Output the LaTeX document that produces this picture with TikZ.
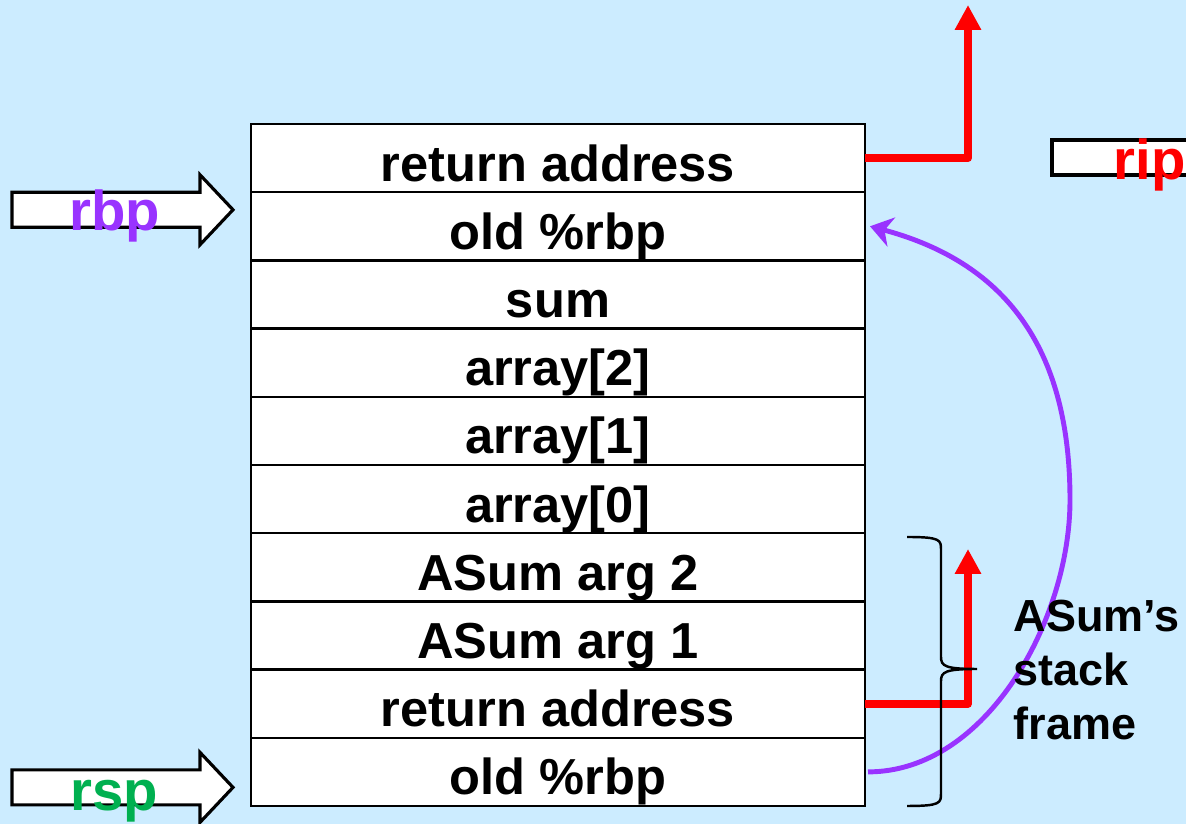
\documentclass[tikz,border=0pt]{standalone}
\usepackage{fontspec}
\setmainfont{Liberation Sans}
\usetikzlibrary{positioning,arrows.meta,calc}
\definecolor{slidebg}{RGB}{204,236,255}
\definecolor{rbpcol}{RGB}{153,51,255}
\definecolor{rspcol}{RGB}{0,176,80}
\tikzset{
	slot/.style={draw, fill=white, line width=0.7pt, outer sep=0pt, inner sep=0pt,
		minimum width=6.14cm, minimum height=6.82mm, text height=4.6mm, text depth=0pt,
		font=\fontsize{14.4}{17}\selectfont\bfseries},
	ptr/.style={draw, fill=white, line width=0.9pt},
	reg/.style={font=\fontsize{16}{19}\selectfont\bfseries, inner sep=0pt, anchor=base},
	jump/.style={red, line width=2.3pt, line join=round, -{Triangle[length=2.5mm,width=2.5mm]}},
}
\begin{document}
\begin{tikzpicture}
	\path[use as bounding box, fill=slidebg] (0,0) rectangle (11.86,-8.24);
	\clip (0,0) rectangle (11.86,-8.24);
	% the stack
	\node[slot] (topret) at (5.58,-1.581) {return address};
	\node[slot, below=0pt of topret] (oldrbp) {old \%rbp};
	\node[slot, below=0pt of oldrbp] (sum) {sum};
	\node[slot, below=0pt of sum] (arrtwo) {array[2]};
	\node[slot, below=0pt of arrtwo] (arrone) {array[1]};
	\node[slot, below=0pt of arrone] (arrzero) {array[0]};
	\node[slot, below=0pt of arrzero] (argtwo) {ASum arg 2};
	\node[slot, below=0pt of argtwo] (argone) {ASum arg 1};
	\node[slot, below=0pt of argone] (asumret) {return address};
	\node[slot, below=0pt of asumret] (asumrbp) {old \%rbp};
	% register pointers
	\coordinate (rbptip) at ($(oldrbp.west)+(-0.18,0.165)$);
	\draw[ptr] (rbptip) -- ++(-0.33,0.35) -- ++(0,-0.175) -- ++(-1.88,0) -- ++(0,-0.35)
		-- ++(1.88,0) -- ++(0,-0.175) -- cycle;
	\node[reg, text=rbpcol] (rbp) at ($(rbptip)+(-1.18,-0.21)$) {rbp};
	\coordinate (rsptip) at ($(asumrbp.west)+(-0.18,-0.155)$);
	\draw[ptr] (rsptip) -- ++(-0.33,0.35) -- ++(0,-0.175) -- ++(-1.88,0) -- ++(0,-0.35)
		-- ++(1.88,0) -- ++(0,-0.175) -- cycle;
	\node[reg, text=rspcol] (rsp) at ($(rsptip)+(-1.19,-0.23)$) {rsp};
	\draw[ptr] (10.52,-1.40) rectangle (12.0,-1.75);
	\node[reg, anchor=base west, text=red] (rip) at (11.13,-1.80) {rip};
	% return jumps
	\coordinate (ripup) at (9.68,-0.05);
	\coordinate (ripup2) at (9.68,-5.49);
	\draw[jump] (topret.east) -| (ripup);
	\draw[jump] (asumret.east) -| (ripup2);
	% restore old rbp
	\coordinate (bend) at (10.70,-5.0);
	\draw[rbpcol, line width=1.4pt, -{Stealth[length=2.2mm,width=3mm,inset=0.7mm]}]
		($(asumrbp.east)+(0.03,0)$) to[out=0,in=-90,looseness=0.9] (bend)
		to[out=90,in=-15,looseness=1.1] ($(oldrbp.east)+(0.05,0)$);
	% frame brace
	\coordinate (bracetip) at (9.77,-6.69);
	\draw[line width=0.7pt] (9.07,-5.37) .. controls (9.41,-5.37) and (9.41,-5.40) .. (9.41,-5.50)
		-- (9.41,-6.57) .. controls (9.41,-6.66) and (9.45,-6.69) .. (bracetip)
		.. controls (9.45,-6.69) and (9.41,-6.72) .. (9.41,-6.81)
		-- (9.41,-7.93) .. controls (9.41,-8.03) and (9.41,-8.06) .. (9.07,-8.06);
	\node[anchor=west, align=left, inner sep=0pt, font=\fontsize{12.8}{15.4}\selectfont\bfseries]
		(frame) at (10.13,-6.70) {ASum’s\\stack\\frame};
\end{tikzpicture}
\end{document}
